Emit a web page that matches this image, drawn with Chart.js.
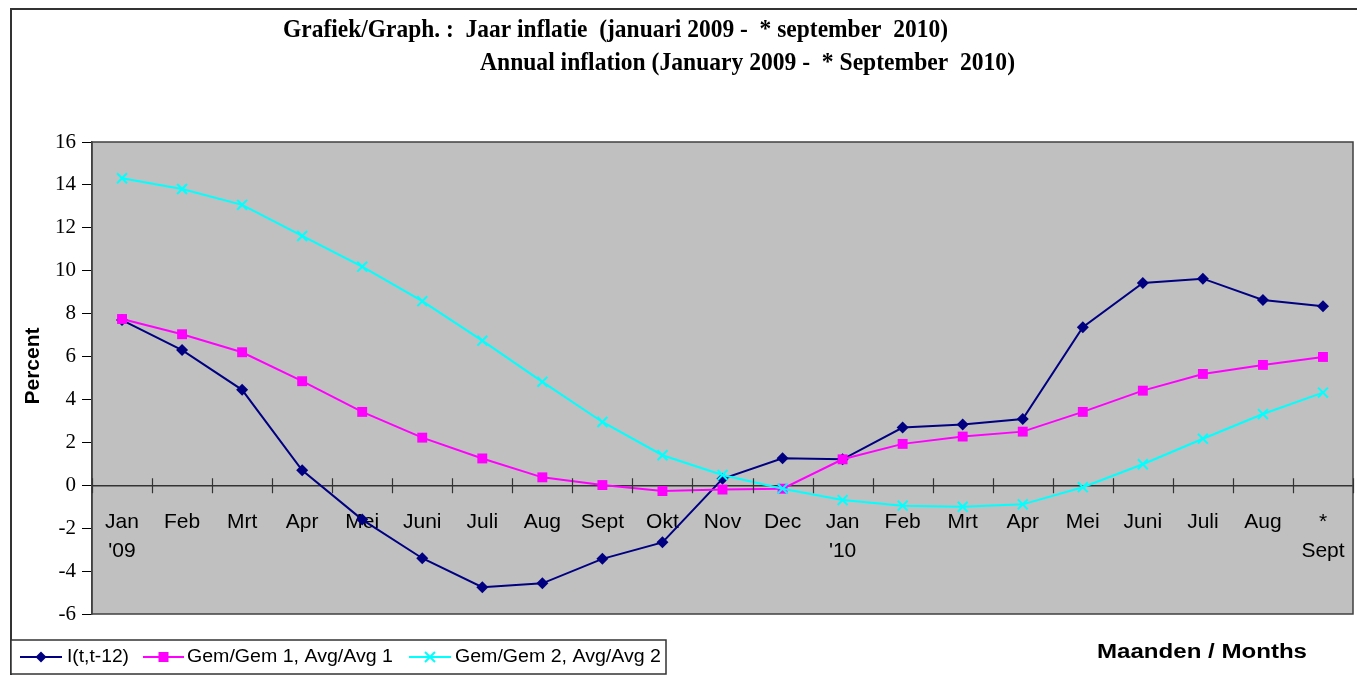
<!DOCTYPE html>
<html>
<head>
<meta charset="utf-8">
<script src="https://cdn.jsdelivr.net/npm/chart.js@4/dist/chart.umd.min.js"></script>
<style>
html,body{margin:0;padding:0;background:#fff;}
#wrap{width:1357px;height:675px;position:relative;}
</style>
</head>
<body>
<div id="wrap"><canvas id="c" width="1357" height="675"></canvas></div>
<script>
// ---- data ----
const categories = [
  ['Jan', "'09"], 'Feb', 'Mrt', 'Apr', 'Mei', 'Juni', 'Juli', 'Aug', 'Sept', 'Okt', 'Nov', 'Dec',
  ['Jan', "'10"], 'Feb', 'Mrt', 'Apr', 'Mei', 'Juni', 'Juli', 'Aug', ['*', 'Sept']
];
const seriesNames = ['I(t,t-12)', 'Gem/Gem 1, Avg/Avg 1', 'Gem/Gem 2, Avg/Avg 2'];
const inflation = [7.7, 6.3, 4.45, 0.7, -1.6, -3.4, -4.75, -4.57, -3.43, -2.66, 0.3, 1.26,
                   1.21, 2.69, 2.83, 3.09, 7.37, 9.43, 9.63, 8.64, 8.34];
const avg1 = [7.75, 7.04, 6.2, 4.85, 3.42, 2.22, 1.25, 0.37, 0.01, -0.27, -0.2, -0.16,
              1.21, 1.93, 2.27, 2.5, 3.42, 4.41, 5.19, 5.61, 5.98];
const avg2 = [14.31, 13.81, 13.07, 11.62, 10.19, 8.58, 6.74, 4.82, 2.95, 1.4, 0.48, -0.16,
              -0.69, -0.95, -1.0, -0.89, -0.09, 0.98, 2.17, 3.32, 4.32];
const yMin = -6, yMax = 16, yStep = 2;
const titleLine1 = 'Grafiek/Graph. :  Jaar inflatie  (januari 2009 -  * september  2010)';
const titleLine2 = 'Annual inflation (January 2009 -  * September  2010)';
const yTitle = 'Percent';
const xTitle = 'Maanden / Months';

const NAVY = '#000080', MAG = '#FF00FF', CYAN = '#00FFFF';

function drawMarker(ctx, style, x, y, color) {
  ctx.save();
  ctx.fillStyle = color; ctx.strokeStyle = color; ctx.lineWidth = 2;
  ctx.beginPath();
  if (style === 'diamond') {
    ctx.moveTo(x, y - 5.5); ctx.lineTo(x + 5.5, y); ctx.lineTo(x, y + 5.5); ctx.lineTo(x - 5.5, y); ctx.closePath(); ctx.fill();
  } else if (style === 'square') {
    ctx.fillRect(x - 5, y - 5, 10, 10);
  } else {
    ctx.moveTo(x - 5, y - 5); ctx.lineTo(x + 5, y + 5); ctx.moveTo(x + 5, y - 5); ctx.lineTo(x - 5, y + 5); ctx.stroke();
  }
  ctx.restore();
}

// draw text starting at x, scaled horizontally to a given width
function fitText(ctx, text, x, y, width) {
  const w = ctx.measureText(text).width;
  ctx.save();
  ctx.translate(x, y);
  ctx.scale(width / w, 1);
  ctx.textAlign = 'left';
  ctx.fillText(text, 0, 0);
  ctx.restore();
}

const decor = {
  id: 'decor',
  beforeDraw(chart) {
    const ctx = chart.ctx, a = chart.chartArea;
    ctx.save();
    ctx.fillStyle = '#fff';
    ctx.fillRect(0, 0, chart.width, chart.height);
    ctx.strokeStyle = '#333'; ctx.lineWidth = 2;
    ctx.beginPath();
    ctx.moveTo(11, 675); ctx.lineTo(11, 9); ctx.lineTo(1357, 9);
    ctx.stroke();
    ctx.fillStyle = '#C0C0C0';
    ctx.fillRect(a.left, a.top, a.right - a.left, a.bottom - a.top);
    ctx.restore();
  },
  afterDraw(chart) {
    const ctx = chart.ctx, a = chart.chartArea;
    const xs = chart.scales.x, ys = chart.scales.y;
    ctx.save();
    ctx.strokeStyle = '#404040'; ctx.lineWidth = 1.5;
    ctx.strokeRect(a.left, a.top, a.right - a.left, a.bottom - a.top);
    const y0 = ys.getPixelForValue(0);
    const step = (xs.right - xs.left) / categories.length;
    ctx.strokeStyle = '#333'; ctx.lineWidth = 1.2;
    ctx.beginPath();
    for (let i = 0; i <= categories.length; i++) {
      const x = Math.round(xs.left + i * step) + 0.5;
      ctx.moveTo(x, y0 - 7); ctx.lineTo(x, y0 + 8);
    }
    ctx.stroke();
    // titles
    ctx.fillStyle = '#000';
    ctx.textBaseline = 'middle';
    ctx.font = 'bold 25px "Liberation Serif", "Times New Roman", serif';
    fitText(ctx, titleLine1, 283, 31, 665);
    fitText(ctx, titleLine2, 480, 64, 535);
    // y title
    ctx.font = 'bold 21px "Liberation Sans", Arial, sans-serif';
    ctx.save();
    ctx.translate(33, 366); ctx.rotate(-Math.PI / 2);
    ctx.textAlign = 'center';
    ctx.fillText(yTitle, 0, 0);
    ctx.restore();
    // x title
    ctx.font = 'bold 20px "Liberation Sans", Arial, sans-serif';
    fitText(ctx, xTitle, 1097, 652, 210);
    // legend box
    ctx.fillStyle = '#fff';
    ctx.fillRect(11, 640, 655, 34);
    ctx.strokeStyle = '#333'; ctx.lineWidth = 1.5;
    ctx.strokeRect(11, 640, 655, 34);
    const items = [
      {x1: 20, x2: 62, tx: 67, tw: 62, color: NAVY, m: 'diamond'},
      {x1: 143, x2: 184, tx: 187, tw: 206, color: MAG, m: 'square'},
      {x1: 409, x2: 451, tx: 455, tw: 206, color: CYAN, m: 'cross'}
    ];
    ctx.font = '18px "Liberation Sans", Arial, sans-serif';
    items.forEach((it, i) => {
      ctx.strokeStyle = it.color; ctx.lineWidth = 2;
      ctx.beginPath(); ctx.moveTo(it.x1, 657); ctx.lineTo(it.x2, 657); ctx.stroke();
      drawMarker(ctx, it.m, (it.x1 + it.x2) / 2, 657, it.color);
      ctx.fillStyle = '#000';
      fitText(ctx, seriesNames[i], it.tx, 657, it.tw);
    });
    ctx.restore();
  }
};

new Chart(document.getElementById('c'), {
  type: 'line',
  data: {
    labels: categories,
    datasets: [
      {label: seriesNames[0], data: inflation, borderColor: NAVY, backgroundColor: NAVY,
       borderWidth: 2, pointStyle: 'rectRot', pointRadius: 6, pointBorderWidth: 0, order: 3, tension: 0},
      {label: seriesNames[1], data: avg1, borderColor: MAG, backgroundColor: MAG,
       borderWidth: 2, pointStyle: 'rect', pointRadius: 7, pointBorderWidth: 0, order: 2, tension: 0},
      {label: seriesNames[2], data: avg2, borderColor: CYAN, backgroundColor: CYAN,
       borderWidth: 2, pointStyle: 'crossRot', pointRadius: 7, pointBorderWidth: 2, order: 1, tension: 0}
    ]
  },
  options: {
    responsive: false,
    animation: false,
    layout: {autoPadding: false, padding: {top: 142, bottom: 61, left: 0, right: 4}},
    plugins: {legend: {display: false}, tooltip: {enabled: false}, title: {display: false}},
    scales: {
      x: {
        type: 'category',
        position: {y: 0},
        offset: true,
        afterFit(s) { s.paddingLeft = 0; s.paddingRight = 0; },
        grid: {display: false, drawTicks: false, tickLength: 0},
        border: {display: true, color: '#333', width: 1.5},
        ticks: {
          color: '#000', padding: 22, maxRotation: 0, minRotation: 0, autoSkip: false,
          font: {family: '"Liberation Sans", Arial, sans-serif', size: 21, lineHeight: 1.38}
        }
      },
      y: {
        min: yMin, max: yMax,
        afterFit(s) { s.width = 92; },
        grid: {drawOnChartArea: false, drawTicks: true, tickLength: 10, color: '#000'},
        border: {display: true, color: '#404040', width: 1.5},
        ticks: {
          stepSize: yStep, color: '#000', padding: 6,
          font: {family: '"Liberation Serif", "Times New Roman", serif', size: 21}
        }
      }
    }
  },
  plugins: [decor]
});
</script>
</body>
</html>
